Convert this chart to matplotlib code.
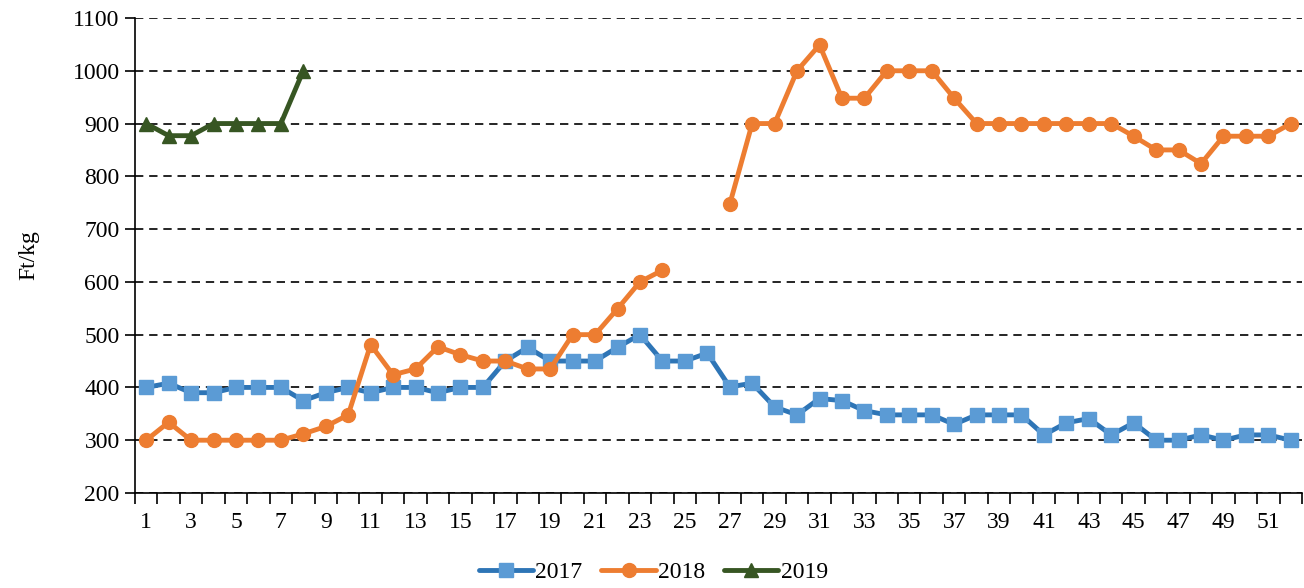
import numpy as np
import matplotlib.pyplot as plt

plt.rcParams['font.family'] = ['Liberation Serif', 'DejaVu Serif']

## adatok (hetek, Ft/kg)
weeks = np.arange(1, 53)
y2017 = [400, 408, 390, 390, 400, 400, 400, 375, 390, 400,
         390, 400, 400, 390, 400, 400, 450, 476, 450, 450,
         450, 476, 500, 450, 450, 465, 401, 408, 363, 348,
         379, 375, 356, 348, 348, 348, 330, 348, 348, 348,
         310, 333, 341, 310, 333, 300, 300, 310, 300, 310,
         310, 300]
y2018 = [300, 334, 300, 300, 300, 300, 300, 312, 326, 348,
         481, 424, 435, 477, 462, 450, 450, 435, 435, 500,
         500, 549, 600, 622, np.nan, np.nan, 747, 900, 900, 1000,
         1049, 948, 948, 1000, 1000, 1000, 948, 900, 900, 900,
         900, 900, 900, 900, 876, 850, 850, 824, 876, 876,
         876, 900]
y2019 = [900, 877, 877, 900, 900, 900, 900, 1000]
xlabels = [str(w) for w in range(1, 53, 2)]

fig = plt.figure(figsize=(13.04, 5.88), dpi=100)
ax = fig.add_axes([0.1035, 0.1616, 0.895, 0.8078])

ax.plot(weeks, y2017, color='#2E75B6', lw=3.5, marker='s', ms=10,
        mfc='#5B9BD5', mec='#5B9BD5', label='2017', solid_capstyle='round')
ax.plot(weeks, y2018, color='#ED7D31', lw=3.5, marker='o', ms=10,
        mfc='#ED7D31', mec='#ED7D31', label='2018', solid_capstyle='round')
ax.plot(weeks[:8], y2019, color='#375623', lw=3.5, marker='^', ms=10,
        mfc='#375623', mec='#375623', label='2019', solid_capstyle='round')

ax.set_xlim(0.5, 52.5)
ax.set_ylim(200, 1100)
ax.set_yticks(np.arange(200, 1101, 100))
ax.yaxis.grid(True, color='black', ls=(0, (5, 3.5)), lw=1.2)
ax.set_axisbelow(True)

ax.set_xticks(np.arange(1, 53, 2))
ax.set_xticklabels(xlabels)
ax.set_xticks(np.arange(0.5, 53, 1), minor=True)
ax.tick_params(axis='x', which='major', length=0, pad=14, labelsize=17)
ax.tick_params(axis='x', which='minor', length=8, width=1.2, direction='out')
ax.tick_params(axis='y', length=7, width=1.2, labelsize=17, pad=4)

for s in ['top', 'right']:
    ax.spines[s].set_visible(False)
ax.spines['left'].set_linewidth(1.2)
ax.spines['bottom'].set_linewidth(1.2)

ax.set_ylabel('Ft/kg', fontsize=17, labelpad=24)

fig.legend(*ax.get_legend_handles_labels(), loc='center',
           bbox_to_anchor=(0.501, 0.027), ncol=3, frameon=False, fontsize=17,
           handlelength=2.3, columnspacing=0.8, handletextpad=0.1,
           borderpad=0)

plt.savefig('out.png', dpi=100)
